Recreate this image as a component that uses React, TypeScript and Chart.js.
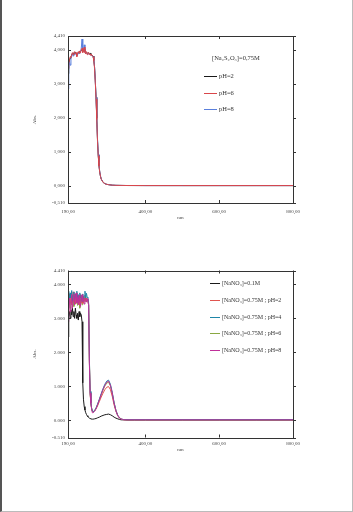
import React, { useEffect, useRef } from "react";
import { Chart, registerables } from "chart.js";

Chart.register(...registerables);

// ---------- DATA ----------
const wavelengthsTop = [190,192,194,196,198,200,202,204,206,208,210,212,214,216,218,220,222,224,226,228,230,232,234,236,238,240,242,244,246,248,250,252,254,256,258,260,262,264,266,268,270,272,274,276,278,280,285,290,295,300,310,320,350,400,500,600,700,800];
const thioPH2 = [3.3,3.55,3.7,3.75,3.8,3.85,3.9,3.88,3.92,3.9,3.94,3.9,3.85,3.88,3.92,3.95,3.93,3.96,3.98,4.0,3.95,3.97,4.02,3.95,3.9,3.93,3.9,3.92,3.9,3.88,3.9,3.86,3.85,3.84,3.82,3.7,3.5,3.1,2.6,2.0,1.35,0.9,0.6,0.4,0.28,0.2,0.1,0.06,0.04,0.03,0.015,0.01,0.005,0.003,0.002,0.002,0.002,0.002];
const thioPH6 = [3.45,3.6,3.72,3.8,3.78,3.86,3.92,3.85,3.9,3.95,3.88,3.92,3.8,3.9,3.95,3.9,3.97,3.92,4.0,4.05,3.92,4.0,4.08,3.92,3.88,3.95,3.86,3.9,3.93,3.86,3.88,3.84,3.86,3.82,3.8,3.68,3.45,3.05,2.55,1.95,1.3,0.88,0.58,0.4,0.28,0.19,0.1,0.06,0.04,0.03,0.015,0.01,0.006,0.004,0.004,0.004,0.004,0.004];
const thioPH8 = [2.85,3.4,3.65,3.55,3.75,3.8,3.9,3.82,3.88,3.86,3.92,3.85,3.82,3.9,3.88,3.93,3.9,3.95,4.05,4.32,3.95,3.98,4.15,3.96,3.9,3.92,3.88,3.9,3.88,3.87,3.86,3.85,3.83,3.82,3.8,3.72,3.5,3.1,2.6,2.0,1.38,0.92,0.62,0.42,0.29,0.2,0.1,0.06,0.04,0.03,0.015,0.01,0.005,0.003,0.003,0.003,0.003,0.003];
const topLabels = ["pH=2", "pH=6", "pH=8"];
const topLegendTitle = "[Na\u2082S\u2082O\u2083]=0,75M";

const wavelengthsBottom = [190,192,194,196,198,200,202,204,206,208,210,212,214,216,218,220,222,224,226,228,230,232,234,236,238,240,242,244,246,248,250,252,254,256,258,262,266,270,275,280,285,290,295,300,305,310,315,320,325,330,335,340,350,370,400,500,600,700,800];
const nitrate01 = [2.45,3.05,3.2,3.0,3.25,3.1,3.3,3.05,3.2,3.0,3.3,3.1,3.0,3.15,2.95,3.2,3.05,3.15,3.1,2.9,1.1,0.6,0.4,0.3,0.22,0.17,0.13,0.1,0.08,0.06,0.05,0.04,0.03,0.03,0.03,0.04,0.05,0.07,0.09,0.12,0.14,0.16,0.17,0.18,0.16,0.13,0.09,0.06,0.04,0.02,0.01,0.01,0.005,0.005,0.005,0.005,0.005,0.005,0.005];
const nitratePH2 = [3.15,3.5,3.72,3.45,3.68,3.4,3.62,3.78,3.5,3.66,3.42,3.6,3.74,3.48,3.64,3.4,3.58,3.7,3.46,3.62,3.44,3.64,3.52,3.68,3.5,3.6,3.54,3.5,3.4,1.7,0.78,0.5,0.34,0.26,0.24,0.27,0.33,0.42,0.55,0.68,0.8,0.9,0.97,0.99,0.9,0.7,0.45,0.26,0.13,0.06,0.03,0.015,0.01,0.01,0.01,0.01,0.01,0.01,0.01];
const nitratePH4 = [3.6,3.8,3.55,3.75,3.6,3.82,3.5,3.7,3.78,3.55,3.72,3.6,3.8,3.58,3.7,3.52,3.75,3.6,3.68,3.5,3.72,3.58,3.66,3.8,3.6,3.74,3.62,3.6,3.45,1.8,0.85,0.52,0.36,0.27,0.25,0.28,0.36,0.47,0.62,0.78,0.93,1.06,1.15,1.18,1.06,0.82,0.52,0.29,0.14,0.07,0.03,0.02,0.015,0.015,0.015,0.015,0.015,0.015,0.015];
const nitratePH6 = [3.4,3.65,3.5,3.3,3.55,3.7,3.45,3.6,3.35,3.58,3.7,3.45,3.55,3.38,3.6,3.5,3.3,3.55,3.62,3.4,3.58,3.46,3.62,3.5,3.66,3.48,3.56,3.52,3.4,1.75,0.82,0.51,0.35,0.27,0.25,0.28,0.35,0.45,0.6,0.75,0.89,1.01,1.09,1.12,1.01,0.78,0.5,0.28,0.14,0.07,0.03,0.02,0.012,0.012,0.012,0.012,0.012,0.012,0.012];
const nitratePH8 = [2.9,3.25,3.6,3.2,3.5,3.7,3.3,3.55,3.72,3.4,3.6,3.75,3.45,3.62,3.4,3.68,3.5,3.35,3.6,3.7,3.5,3.58,3.42,3.6,3.55,3.48,3.58,3.52,3.38,1.65,0.8,0.5,0.34,0.22,0.22,0.26,0.34,0.45,0.6,0.76,0.91,1.03,1.12,1.15,1.03,0.8,0.5,0.28,0.13,0.06,0.03,0.015,0.01,0.01,0.01,0.01,0.01,0.01,0.01];
const bottomLabels = [
  "[NaNO\u2083]=0.1M",
  "[NaNO\u2083]=0.75M ; pH=2",
  "[NaNO\u2083]=0.75M ; pH=4",
  "[NaNO\u2083]=0.75M ; pH=6",
  "[NaNO\u2083]=0.75M ; pH=8",
];

const xTickValues = [190, 400, 600, 800];
const yTickValues = [-0.51, 0, 1, 2, 3, 4, 4.41];

// ---------- helpers ----------
const toPoints = (xs: number[], ys: number[]) => xs.map((x, i) => ({ x, y: ys[i] }));
const FONT = "'Liberation Serif', 'DejaVu Serif', serif";

const framePlugin = {
  id: "frame",
  afterDraw(chart: any, _args: any, opts: any) {
    const ctx = chart.ctx;
    const { left, right, top, bottom } = chart.chartArea;
    ctx.save();
    ctx.strokeStyle = opts.color || "#333";
    ctx.lineWidth = 1;
    ctx.strokeRect(Math.round(left) + 0.5, Math.round(top) + 0.5, Math.round(right - left), Math.round(bottom - top));
    const xs = chart.scales.x;
    const ys = chart.scales.y;
    ctx.beginPath();
    xs.ticks.forEach((t: any) => {
      const p = Math.round(xs.getPixelForValue(t.value)) + 0.5;
      ctx.moveTo(p, top); ctx.lineTo(p, top + 3);
      ctx.moveTo(p, bottom); ctx.lineTo(p, bottom - 3);
    });
    ys.ticks.forEach((t: any) => {
      const p = Math.round(ys.getPixelForValue(t.value)) + 0.5;
      ctx.moveTo(left, p); ctx.lineTo(left + 3, p);
      ctx.moveTo(right, p); ctx.lineTo(right + 3, p);
    });
    ctx.stroke();
    ctx.restore();
  },
};

const legendPlugin = {
  id: "inlineLegend",
  afterDraw(chart: any, _args: any, opts: any) {
    const ctx = chart.ctx;
    ctx.save();
    ctx.textBaseline = "middle";
    ctx.textAlign = "left";
    ctx.fillStyle = opts.color;
    if (opts.title) {
      ctx.font = `${opts.titleSize}px ${FONT}`;
      ctx.fillText(opts.title, opts.titleX, opts.titleY);
    }
    ctx.font = `${opts.size}px ${FONT}`;
    chart.data.datasets.forEach((ds: any, i: number) => {
      const y = Math.round(opts.y + i * opts.gap) + 0.5;
      ctx.strokeStyle = ds.borderColor;
      ctx.lineWidth = 1;
      ctx.beginPath();
      ctx.moveTo(opts.x, y);
      ctx.lineTo(opts.x + opts.len, y);
      ctx.stroke();
      ctx.fillText(ds.label, opts.x + opts.len + 2, y);
    });
    ctx.restore();
  },
};

function makeOptions(p: {
  padTop: number; padBottom: number; xHeight: number; xTickPad: number; sep: string; xSep: string; legend: any;
}) {
  return {
    responsive: false,
    animation: false as const,
    devicePixelRatio: 1,
    layout: { padding: { left: 0, right: 60, top: p.padTop, bottom: p.padBottom } },
    plugins: { legend: { display: false }, tooltip: { enabled: false }, inlineLegend: p.legend, frame: { color: "#333" } },
    elements: { point: { radius: 0 }, line: { borderWidth: 1, tension: 0 } },
    scales: {
      x: {
        type: "linear" as const,
        min: 190,
        max: 800,
        afterBuildTicks: (s: any) => { s.ticks = xTickValues.map((v) => ({ value: v })); },
        afterFit: (s: any) => { s.height = p.xHeight; },
        grid: { display: false, drawTicks: false },
        border: { display: false },
        ticks: {
          padding: p.xTickPad,
          color: "#444",
          font: { family: FONT, size: 5 },
          maxRotation: 0,
          autoSkip: false,
          callback: (v: any) => Number(v).toFixed(2).replace(".", p.xSep),
        },
        title: { display: true, text: "nm", color: "#444", font: { family: FONT, size: 5 }, padding: { top: 0, bottom: 0 } },
      },
      y: {
        type: "linear" as const,
        min: -0.51,
        max: 4.41,
        afterBuildTicks: (s: any) => { s.ticks = yTickValues.map((v) => ({ value: v })); },
        afterFit: (s: any) => { s.width = 68; },
        grid: { display: false, drawTicks: false },
        border: { display: false },
        ticks: {
          padding: 3,
          color: "#444",
          font: { family: FONT, size: 5 },
          autoSkip: false,
          callback: (v: any) => Number(v).toFixed(3).replace(".", p.sep),
        },
        title: { display: true, text: "Abs.", color: "#444", font: { family: FONT, size: 5 }, padding: { top: 32, bottom: 0 } },
      },
    },
  };
}

function topConfig(): any {
  return {
    type: "line",
    data: {
      datasets: [
        { label: topLabels[0], data: toPoints(wavelengthsTop, thioPH2), borderColor: "#1a1a1a", order: 2 },
        { label: topLabels[1], data: toPoints(wavelengthsTop, thioPH6), borderColor: "#d9464a", order: 0 },
        { label: topLabels[2], data: toPoints(wavelengthsTop, thioPH8), borderColor: "#5a7fdc", order: 1 },
      ],
    },
    options: makeOptions({
      padTop: 36, padBottom: 35, xHeight: 18, xTickPad: 6, sep: ",", xSep: ",",
      legend: { color: "#333", title: topLegendTitle, titleSize: 6.5, titleX: 212, titleY: 58, size: 6.5, x: 204, len: 13, y: 76, gap: 16.5 },
    }),
    plugins: [framePlugin, legendPlugin],
  };
}

function bottomConfig(): any {
  return {
    type: "line",
    data: {
      datasets: [
        { label: bottomLabels[0], data: toPoints(wavelengthsBottom, nitrate01), borderColor: "#1a1a1a", order: 4 },
        { label: bottomLabels[1], data: toPoints(wavelengthsBottom, nitratePH2), borderColor: "#e0554f", order: 2 },
        { label: bottomLabels[2], data: toPoints(wavelengthsBottom, nitratePH4), borderColor: "#1f86a8", order: 1 },
        { label: bottomLabels[3], data: toPoints(wavelengthsBottom, nitratePH6), borderColor: "#8aa842", order: 3 },
        { label: bottomLabels[4], data: toPoints(wavelengthsBottom, nitratePH8), borderColor: "#c0309a", order: 0 },
      ],
    },
    options: makeOptions({
      padTop: 14.5, padBottom: 59, xHeight: 15.5, xTickPad: 3.5, sep: ".", xSep: ",",
      legend: { color: "#333", title: "", size: 6, x: 210, len: 10, y: 27.3, gap: 16.7 },
    }),
    plugins: [framePlugin, legendPlugin],
  };
}

function ChartCanvas({ make, top }: { make: () => any; top: number }) {
  const ref = useRef<HTMLCanvasElement | null>(null);
  useEffect(() => {
    if (!ref.current) return;
    const chart = new Chart(ref.current, make());
    return () => chart.destroy();
  }, [make]);
  return (
    <canvas
      ref={ref}
      width={353}
      height={256}
      style={{ position: "absolute", left: 0, top, width: 353, height: 256, display: "block" }}
    />
  );
}

export default function App() {
  return (
    <div style={{ position: "fixed", left: 0, top: 0, width: 353, height: 512, background: "#fff", overflow: "hidden" }}>
      <ChartCanvas make={topConfig} top={0} />
      <ChartCanvas make={bottomConfig} top={256} />
      <div
        style={{
          position: "absolute",
          left: 0,
          top: 0,
          width: 353,
          height: 512,
          boxSizing: "border-box",
          borderLeft: "2px solid #555",
          borderRight: "1px solid #bbb",
          borderBottom: "1px solid #bbb",
          pointerEvents: "none",
        }}
      />
    </div>
  );
}
